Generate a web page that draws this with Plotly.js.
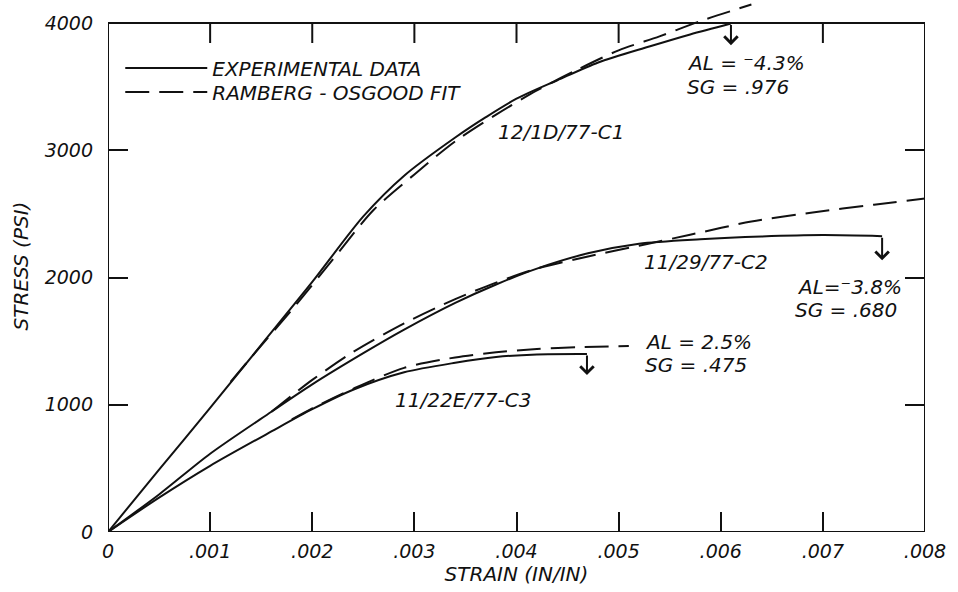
<!DOCTYPE html>
<html>
<head>
<meta charset="utf-8">
<script src="https://cdn.plot.ly/plotly-3.0.1.min.js"></script>
<style>html,body{margin:0;padding:0;background:#fff;}#chart{width:958px;height:592px;}</style>
</head>
<body>
<div id="chart"></div>
<script>
// ---- data (strain in/in, stress psi) ----
var c1Strain = [0, 0.0005, 0.001, 0.0015, 0.002, 0.0025, 0.0029, 0.0034, 0.0037, 0.004, 0.0044, 0.0048, 0.0053, 0.0057, 0.0061];
var c1Stress = [0, 490, 975, 1470, 1965, 2480, 2800, 3100, 3260, 3405, 3550, 3690, 3815, 3910, 3996];
var c1FitStrain = [0.0012, 0.0015, 0.0018, 0.0022, 0.0026, 0.003, 0.0034, 0.0038, 0.0042, 0.0046, 0.005, 0.0054, 0.0058, 0.0063];
var c1FitStress = [1180, 1465, 1745, 2140, 2530, 2810, 3070, 3280, 3470, 3635, 3785, 3895, 4015, 4145];

var c2Strain = [0, 0.0005, 0.001, 0.0016, 0.002, 0.0025, 0.0029, 0.0034, 0.0038, 0.0042, 0.0047, 0.0052, 0.0058, 0.0064, 0.007, 0.00758];
var c2Stress = [0, 295, 615, 945, 1160, 1405, 1590, 1800, 1945, 2070, 2190, 2265, 2300, 2322, 2333, 2325];
var c2FitStrain = [0.0016, 0.002, 0.0024, 0.0029, 0.0034, 0.0038, 0.0042, 0.0047, 0.0052, 0.0057, 0.0063, 0.0069, 0.0075, 0.008];
var c2FitStress = [945, 1195, 1415, 1640, 1830, 1960, 2070, 2165, 2250, 2336, 2440, 2511, 2572, 2621];

var c3Strain = [0, 0.0005, 0.001, 0.0016, 0.002, 0.0024, 0.0029, 0.0034, 0.0038, 0.0042, 0.00469];
var c3Stress = [0, 270, 520, 790, 965, 1118, 1255, 1330, 1375, 1395, 1398];
var c3FitStrain = [0.0018, 0.002, 0.0024, 0.0029, 0.0034, 0.0038, 0.0042, 0.0046, 0.0051];
var c3FitStress = [885, 972, 1125, 1290, 1372, 1412, 1438, 1452, 1462];

var seriesNames = ['EXPERIMENTAL DATA', 'RAMBERG - OSGOOD FIT'];
var specimenLabels = ['12/1D/77-C1', '11/29/77-C2', '11/22E/77-C3'];
var alLabels = ['AL = \u207B4.3%', 'AL=\u207B3.8%', 'AL = 2.5%'];
var sgLabels = ['SG = .976', 'SG = .680', 'SG = .475'];

var xTickVals = [0, 0.001, 0.002, 0.003, 0.004, 0.005, 0.006, 0.007, 0.008];
var xTickText = ['0', '.001', '.002', '.003', '.004', '.005', '.006', '.007', '.008'];
var yTickVals = [0, 1000, 2000, 3000, 4000];
var yTickText = ['0', '1000', '2000', '3000', '4000'];
var topTickVals = [0.001, 0.002, 0.003, 0.004, 0.005, 0.007];

// ---- styling ----
var FONT = 'DejaVu Sans, Liberation Sans, sans-serif';
var ink = '#111';
function solid(x, y, show) {
  return {x: x, y: y, type: 'scatter', mode: 'lines', name: seriesNames[0], legend: 'legend', legendgroup: 'exp', showlegend: show,
    line: {color: ink, width: 2, shape: 'spline', smoothing: 0.8}, hoverinfo: 'x+y'};
}
function dashed(x, y, show) {
  return {x: x, y: y, type: 'scatter', mode: 'lines', name: seriesNames[1], legend: 'legend2', legendgroup: 'fit', showlegend: show,
    line: {color: ink, width: 2, dash: '24px,10px', shape: 'spline', smoothing: 0.8}, hoverinfo: 'x+y'};
}
var traces = [
  solid(c1Strain, c1Stress, true), dashed(c1FitStrain, c1FitStress, true),
  solid(c2Strain, c2Stress, false), dashed(c2FitStrain, c2FitStress, false),
  solid(c3Strain, c3Stress, false), dashed(c3FitStrain, c3FitStress, false)
];

var txtFont = {family: FONT, size: 20, color: ink, style: 'italic'};
var tickFont = {family: FONT, size: 19, color: ink, style: 'italic'};
function label(text, x, y, anchor) {
  return {text: text, x: x, y: y, xref: 'x', yref: 'y', showarrow: false, xanchor: anchor || 'left', yanchor: 'middle', font: txtFont};
}
var annotations = [
  label(specimenLabels[0], 0.003800, 3142),
  label(alLabels[0], 0.005650, 3684), label(sgLabels[0], 0.005650, 3495),
  label(specimenLabels[1], 0.005230, 2121),
  label(alLabels[1], 0.006730, 1925), label(sgLabels[1], 0.006710, 1744),
  label(alLabels[2], 0.005240, 1493), label(sgLabels[2], 0.005240, 1312),
  label(specimenLabels[2], 0.002791, 1037)
];
// failure arrows from the end of each experimental curve
var ends = [[c1Strain, c1Stress], [c2Strain, c2Stress], [c3Strain, c3Stress]];
var drops = [170, 190, 165];
ends.forEach(function (e, i) {
  var n = e[0].length - 1;
  annotations.push({x: e[0][n], y: e[1][n] - drops[i], ax: e[0][n], ay: e[1][n], xref: 'x', yref: 'y', axref: 'x', ayref: 'y',
    text: '', showarrow: true, arrowhead: 4, arrowsize: 1.3, arrowwidth: 2, arrowcolor: ink});
});

var shapes = [{type: 'rect', xref: 'x', yref: 'y', x0: 0, x1: 0.008, y0: 0, y1: 4000, line: {color: ink, width: 2}, layer: 'below'}];
topTickVals.forEach(function (t) {
  shapes.push({type: 'line', xref: 'x', yref: 'y', x0: t, x1: t, ysizemode: 'pixel', yanchor: 4000, y0: 0, y1: -20,
    line: {color: ink, width: 2}});
});

var legendBase = {x: 0.015, xanchor: 'left', yanchor: 'top', bgcolor: 'rgba(0,0,0,0)', itemwidth: 82, font: txtFont};
var layout = {
  width: 958, height: 592,
  margin: {l: 108, r: 33, t: 0, b: 60},
  paper_bgcolor: '#fff', plot_bgcolor: '#fff',
  font: txtFont,
  showlegend: true,
  legend: Object.assign({y: 0.9088}, legendBase),
  legend2: Object.assign({y: 0.8637}, legendBase),
  xaxis: {range: [0, 0.008], tickvals: xTickVals, ticktext: xTickText, ticks: 'inside', ticklen: 20, tickwidth: 2, tickcolor: ink,
    showgrid: false, zeroline: false, showline: false, automargin: false, ticklabelstandoff: 6,
    tickfont: tickFont,
    title: {text: 'STRAIN (IN/IN)', font: txtFont, standoff: 4}},
  yaxis: {range: [0, 4180.7], tickvals: yTickVals, ticktext: yTickText, ticks: 'inside', ticklen: 20, tickwidth: 2, tickcolor: ink,
    mirror: 'ticks', showgrid: false, zeroline: false, showline: false, automargin: false, ticklabelstandoff: 14,
    tickfont: tickFont,
    title: {text: 'STRESS (PSI)', font: txtFont, standoff: 10}},
  annotations: annotations,
  shapes: shapes
};
Plotly.newPlot('chart', traces, layout, {displayModeBar: false, staticPlot: true});
</script>
</body>
</html>
